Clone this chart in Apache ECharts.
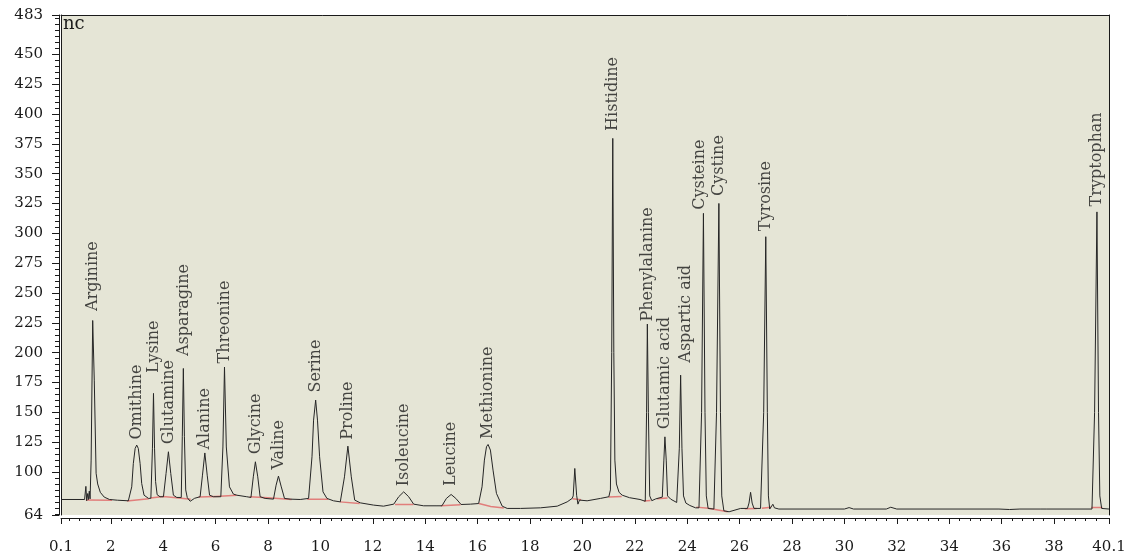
<!DOCTYPE html>
<html>
<head>
<meta charset="utf-8">
<script src="https://cdn.jsdelivr.net/npm/echarts@6/dist/echarts.min.js"></script>
<style>
  html, body { margin: 0; padding: 0; background: #ffffff; }
  #chart { width: 1131px; height: 556px; }
</style>
</head>
<body>
<div id="chart"></div>
<script>
// Amino acid peaks: name, retention time (min) and apex height (nc)
const peakNames = [
  'Arginine', 'Omithine', 'Lysine', 'Glutamine', 'Asparagine', 'Alanine',
  'Threonine', 'Glycine', 'Valine', 'Serine', 'Proline', 'Isoleucine',
  'Leucine', 'Methionine', 'Histidine', 'Phenylalanine', 'Glutamic acid',
  'Aspartic aid', 'Cysteine', 'Cystine', 'Tyrosine', 'Tryptophan'
];
const peakTimes = [
  1.31, 2.99, 3.63, 4.20, 4.77, 5.59,
  6.34, 7.52, 8.40, 9.82, 11.05, 13.18,
  14.99, 16.40, 21.16, 22.48, 23.15,
  23.75, 24.62, 25.21, 27.00, 39.64
];
const peakHeights = [
  227.0, 122.6, 165.9, 117.0, 186.8, 116.0,
  188.0, 108.6, 96.6, 160.3, 121.7, 83.4,
  81.2, 123.1, 379.6, 224.0, 129.5,
  181.2, 316.8, 325.1, 297.2, 318.0
];

// Detector trace between the labelled apexes (time in min, signal in nc)
const traceTime = [
  0.10, 1.00, 1.03, 1.05, 1.08, 1.12, 1.15, 1.18, 1.21, 1.25,
  1.37, 1.44, 1.50, 1.60, 1.75, 1.95, 2.25, 2.67, 2.80, 2.86, 2.93,
  3.05, 3.12, 3.18, 3.27, 3.44, 3.53, 3.59,
  3.67, 3.71, 3.77, 3.88, 4.01, 4.11,
  4.29, 4.39, 4.52, 4.69, 4.73,
  4.81, 4.86, 4.92, 5.03, 5.20, 5.41, 5.50,
  5.68, 5.77, 5.92, 6.20, 6.28,
  6.41, 6.53, 6.68, 6.81, 7.19, 7.35, 7.44,
  7.61, 7.70, 7.89, 8.21, 8.31,
  8.50, 8.63, 8.85, 9.23, 9.55, 9.68, 9.74,
  9.89, 9.97, 10.10, 10.25, 10.50, 10.76, 10.92,
  11.18, 11.31, 11.52, 12.03, 12.41, 12.80, 12.99,
  13.37, 13.56, 13.94, 14.45, 14.64, 14.81,
  15.17, 15.37, 15.73, 16.04, 16.08, 16.17, 16.26, 16.34,
  16.49, 16.59, 16.72, 16.94, 17.13, 17.64, 18.40, 19.04, 19.42, 19.61,
  19.65, 19.71, 19.78, 19.83, 19.89, 20.18, 20.69, 21.01, 21.07, 21.12,
  21.20, 21.24, 21.30, 21.40, 21.52, 21.80, 22.20, 22.40, 22.45,
  22.52, 22.57, 22.65, 22.80, 23.05, 23.11,
  23.20, 23.25, 23.37, 23.60, 23.70,
  23.80, 23.86, 23.95, 24.10, 24.32, 24.45, 24.55,
  24.68, 24.73, 24.80, 25.02, 25.12,
  25.27, 25.32, 25.40, 25.60, 26.04, 26.30, 26.36, 26.42, 26.48, 26.55, 26.80, 26.92,
  27.06, 27.10, 27.15, 27.22, 27.27, 27.33, 27.50, 30.00, 30.18, 30.35,
  31.60, 31.77, 32.00, 35.90, 36.30, 36.70, 37.50, 37.57, 37.70, 39.45, 39.55,
  39.70, 39.75, 39.82, 40.10
];
const traceSignal = [
  77.0, 77.0, 77.0, 88.0, 76.0, 82.0, 77.0, 84.0, 77.5, 110.0,
  177.0, 99.0, 90.0, 83.0, 79.0, 77.0, 76.4, 75.9, 87.6, 107.0, 119.8,
  119.8, 107.0, 90.4, 80.6, 77.9, 78.0, 120.0,
  120.0, 92.0, 81.0, 79.3, 79.3, 98.8,
  98.8, 80.6, 78.7, 78.7, 130.0,
  130.0, 85.0, 78.5, 75.5, 78.0, 79.3, 97.4,
  97.4, 80.6, 79.3, 79.3, 121.0,
  121.0, 87.6, 81.5, 80.6, 79.3, 78.7, 96.0,
  96.0, 79.3, 77.9, 77.3, 89.0,
  88.2, 77.9, 77.3, 77.0, 77.9, 112.8, 143.5,
  143.5, 112.8, 83.4, 77.9, 75.9, 75.0, 96.0,
  96.0, 76.5, 74.2, 72.3, 71.4, 73.1, 79.3,
  79.3, 73.1, 71.7, 71.7, 71.7, 77.9,
  77.9, 72.8, 73.1, 73.6, 74.2, 87.6, 110.0, 121.2,
  118.4, 101.6, 82.1, 71.4, 69.5, 69.5, 70.0, 71.4, 75.0, 77.9,
  80.0, 103.0, 80.6, 73.1, 76.5, 75.9, 77.9, 79.3, 85.0, 200.0,
  200.0, 110.0, 90.0, 83.0, 80.6, 78.5, 77.0, 75.5, 150.0,
  150.0, 80.0, 76.0, 77.5, 79.0, 110.0,
  110.0, 80.0, 77.3, 74.5, 120.0,
  120.0, 80.0, 74.0, 72.0, 70.0, 70.0, 150.0,
  150.0, 80.0, 69.5, 69.0, 150.0,
  150.0, 80.0, 67.5, 66.7, 69.5, 69.5, 74.0, 83.0, 74.0, 69.5, 69.5, 150.0,
  150.0, 80.0, 69.0, 70.5, 73.0, 70.0, 69.0, 69.0, 70.2, 69.0,
  69.0, 70.5, 69.0, 69.0, 68.6, 69.0, 69.0, 70.4, 69.0, 69.0, 150.0,
  150.0, 80.0, 69.5, 69.0
];

// Integration baselines drawn under the peaks
const baselineSegments = [
  [[1.05, 76.6], [2.05, 76.3]],
  [[2.62, 75.8], [3.45, 77.6]],
  [[3.52, 78.2], [4.00, 79.4], [4.50, 78.4], [5.05, 77.2]],
  [[5.35, 79.0], [6.00, 79.6], [6.80, 80.6]],
  [[7.30, 79.2], [8.00, 78.4], [8.90, 77.0]],
  [[9.50, 77.2], [10.30, 77.2]],
  [[10.75, 75.0], [11.50, 73.6]],
  [[12.85, 72.8], [13.55, 72.8]],
  [[14.60, 71.8], [15.35, 72.6]],
  [[16.05, 73.6], [16.50, 71.2], [17.00, 69.8]],
  [[19.62, 77.6], [19.95, 76.8]],
  [[21.00, 79.0], [21.50, 79.6]],
  [[22.35, 75.8], [22.60, 76.2]],
  [[22.85, 77.6], [23.25, 78.2]],
  [[24.35, 70.6], [24.80, 69.6], [25.55, 66.8]],
  [[26.20, 69.2], [26.65, 69.4]],
  [[26.85, 69.6], [27.20, 70.4]],
  [[39.42, 70.2], [39.85, 70.2]]
];

// Axis tick labels
const xTickLabels = [0.1, 2, 4, 6, 8, 10, 12, 14, 16, 18, 20, 22, 24, 26, 28, 30, 32, 34, 36, 38, 40.1];
const yTickLabels = [64, 100, 125, 150, 175, 200, 225, 250, 275, 300, 325, 350, 375, 400, 425, 450, 483];

const X_MIN = 0.1, X_MAX = 40.1, Y_MIN = 64, Y_MAX = 483;
const FONT = 'DejaVu Serif';
const INK = '#1a1a1a';

// Minor tick positions: every 0.4 min and every 5 nc
const xMinor = [];
for (let k = 1; k * 0.4 < X_MAX; k++) {
  const t = Math.round(k * 4) / 10;
  if (Math.abs(t - Math.round(t)) > 1e-6 || Math.round(t) % 2 !== 0) xMinor.push(t);
}
const yMinor = [];
for (let v = 65; v <= 480; v += 5) {
  if (yTickLabels.indexOf(v) < 0) yMinor.push(v);
}

// Label gap above each apex (px) and sideways nudge
const labelGap = {
  'Arginine': 9, 'Omithine': 5, 'Lysine': 20, 'Glutamine': 7, 'Asparagine': 12,
  'Alanine': 3, 'Threonine': 3, 'Glycine': 7, 'Valine': 6, 'Serine': 7,
  'Proline': 6, 'Isoleucine': 5, 'Leucine': 8, 'Methionine': 5, 'Histidine': 7,
  'Phenylalanine': 2, 'Glutamic acid': 7, 'Aspartic aid': 12, 'Cysteine': 3,
  'Cystine': 7, 'Tyrosine': 5, 'Tryptophan': 5
};
const labelShift = { 'Aspartic aid': 5, 'Cysteine': -4 };

const tracePoints = traceTime.map((t, i) => [t, traceSignal[i]])
  .concat(peakTimes.map((t, i) => [t, peakHeights[i]]))
  .sort((a, b) => a[0] - b[0]);

const peakLabels = peakNames.map((name, i) => ({
  name: name,
  value: [peakTimes[i], peakHeights[i]],
  label: {
    distance: labelGap[name] || 5,
    offset: [0, labelShift[name] || 0]
  }
}));

const noSplit = { show: false };
const lineOnly = {
  axisLine: { show: true, lineStyle: { color: INK, width: 1 } },
  axisTick: { show: false },
  axisLabel: { show: false },
  splitLine: noSplit
};

const chart = echarts.init(document.getElementById('chart'), null, { renderer: 'canvas' });
chart.setOption({
  animation: false,
  backgroundColor: '#ffffff',
  grid: {
    left: 61, right: 22, top: 15, bottom: 41,
    show: true, backgroundColor: '#e5e5d6', borderWidth: 0
  },
  xAxis: [
    {
      type: 'value', min: X_MIN, max: X_MAX, position: 'bottom', offset: 3,
      axisLine: { show: true, onZero: false, lineStyle: { color: INK, width: 1 } },
      axisTick: { show: true, customValues: xTickLabels, length: 6, lineStyle: { color: INK } },
      axisLabel: {
        customValues: xTickLabels, margin: 22, color: INK,
        fontFamily: FONT, fontSize: 15, formatter: v => String(v)
      },
      splitLine: noSplit
    },
    {
      type: 'value', min: X_MIN, max: X_MAX, position: 'bottom', offset: 3,
      axisLine: { show: false },
      axisTick: { show: true, customValues: xMinor, length: 3, lineStyle: { color: INK } },
      axisLabel: { show: false },
      splitLine: noSplit
    },
    Object.assign({ type: 'value', min: X_MIN, max: X_MAX, position: 'top' }, lineOnly)
  ],
  yAxis: [
    {
      type: 'value', min: Y_MIN, max: Y_MAX, position: 'left', offset: 2,
      axisLine: { show: true, onZero: false, lineStyle: { color: INK, width: 1 } },
      axisTick: { show: true, customValues: yTickLabels, length: 7, lineStyle: { color: INK } },
      axisLabel: {
        customValues: yTickLabels, margin: 16, color: INK,
        fontFamily: FONT, fontSize: 15
      },
      splitLine: noSplit
    },
    {
      type: 'value', min: Y_MIN, max: Y_MAX, position: 'left', offset: 2,
      axisLine: { show: false },
      axisTick: { show: true, customValues: yMinor, length: 4, lineStyle: { color: INK } },
      axisLabel: { show: false },
      splitLine: noSplit
    },
    Object.assign({ type: 'value', min: Y_MIN, max: Y_MAX, position: 'left', offset: 0 }, lineOnly),
    Object.assign({ type: 'value', min: Y_MIN, max: Y_MAX, position: 'right', offset: 0 }, lineOnly)
  ],
  graphic: [{
    type: 'text', left: 63, top: 15,
    style: { text: 'nc', fill: INK, font: '18px "DejaVu Serif"' }
  }],
  series: [
    {
      type: 'lines', coordinateSystem: 'cartesian2d', polyline: true,
      xAxisIndex: 0, yAxisIndex: 0, z: 2,
      lineStyle: { color: '#e06464', width: 1.5, opacity: 0.8 },
      data: baselineSegments.map(s => ({ coords: s })),
      silent: true
    },
    {
      type: 'line', xAxisIndex: 0, yAxisIndex: 0, z: 3,
      data: tracePoints, showSymbol: false, symbol: 'none',
      lineStyle: { color: '#262626', width: 1 },
      clip: true, silent: true
    },
    {
      type: 'scatter', xAxisIndex: 0, yAxisIndex: 0, z: 4,
      data: peakLabels, symbolSize: 1,
      itemStyle: { color: 'rgba(0,0,0,0)' },
      label: {
        show: true, position: 'top', rotate: 90,
        align: 'left', verticalAlign: 'middle',
        formatter: '{b}', color: INK, fontFamily: FONT, fontSize: 16
      },
      silent: true
    }
  ]
});
</script>
</body>
</html>
